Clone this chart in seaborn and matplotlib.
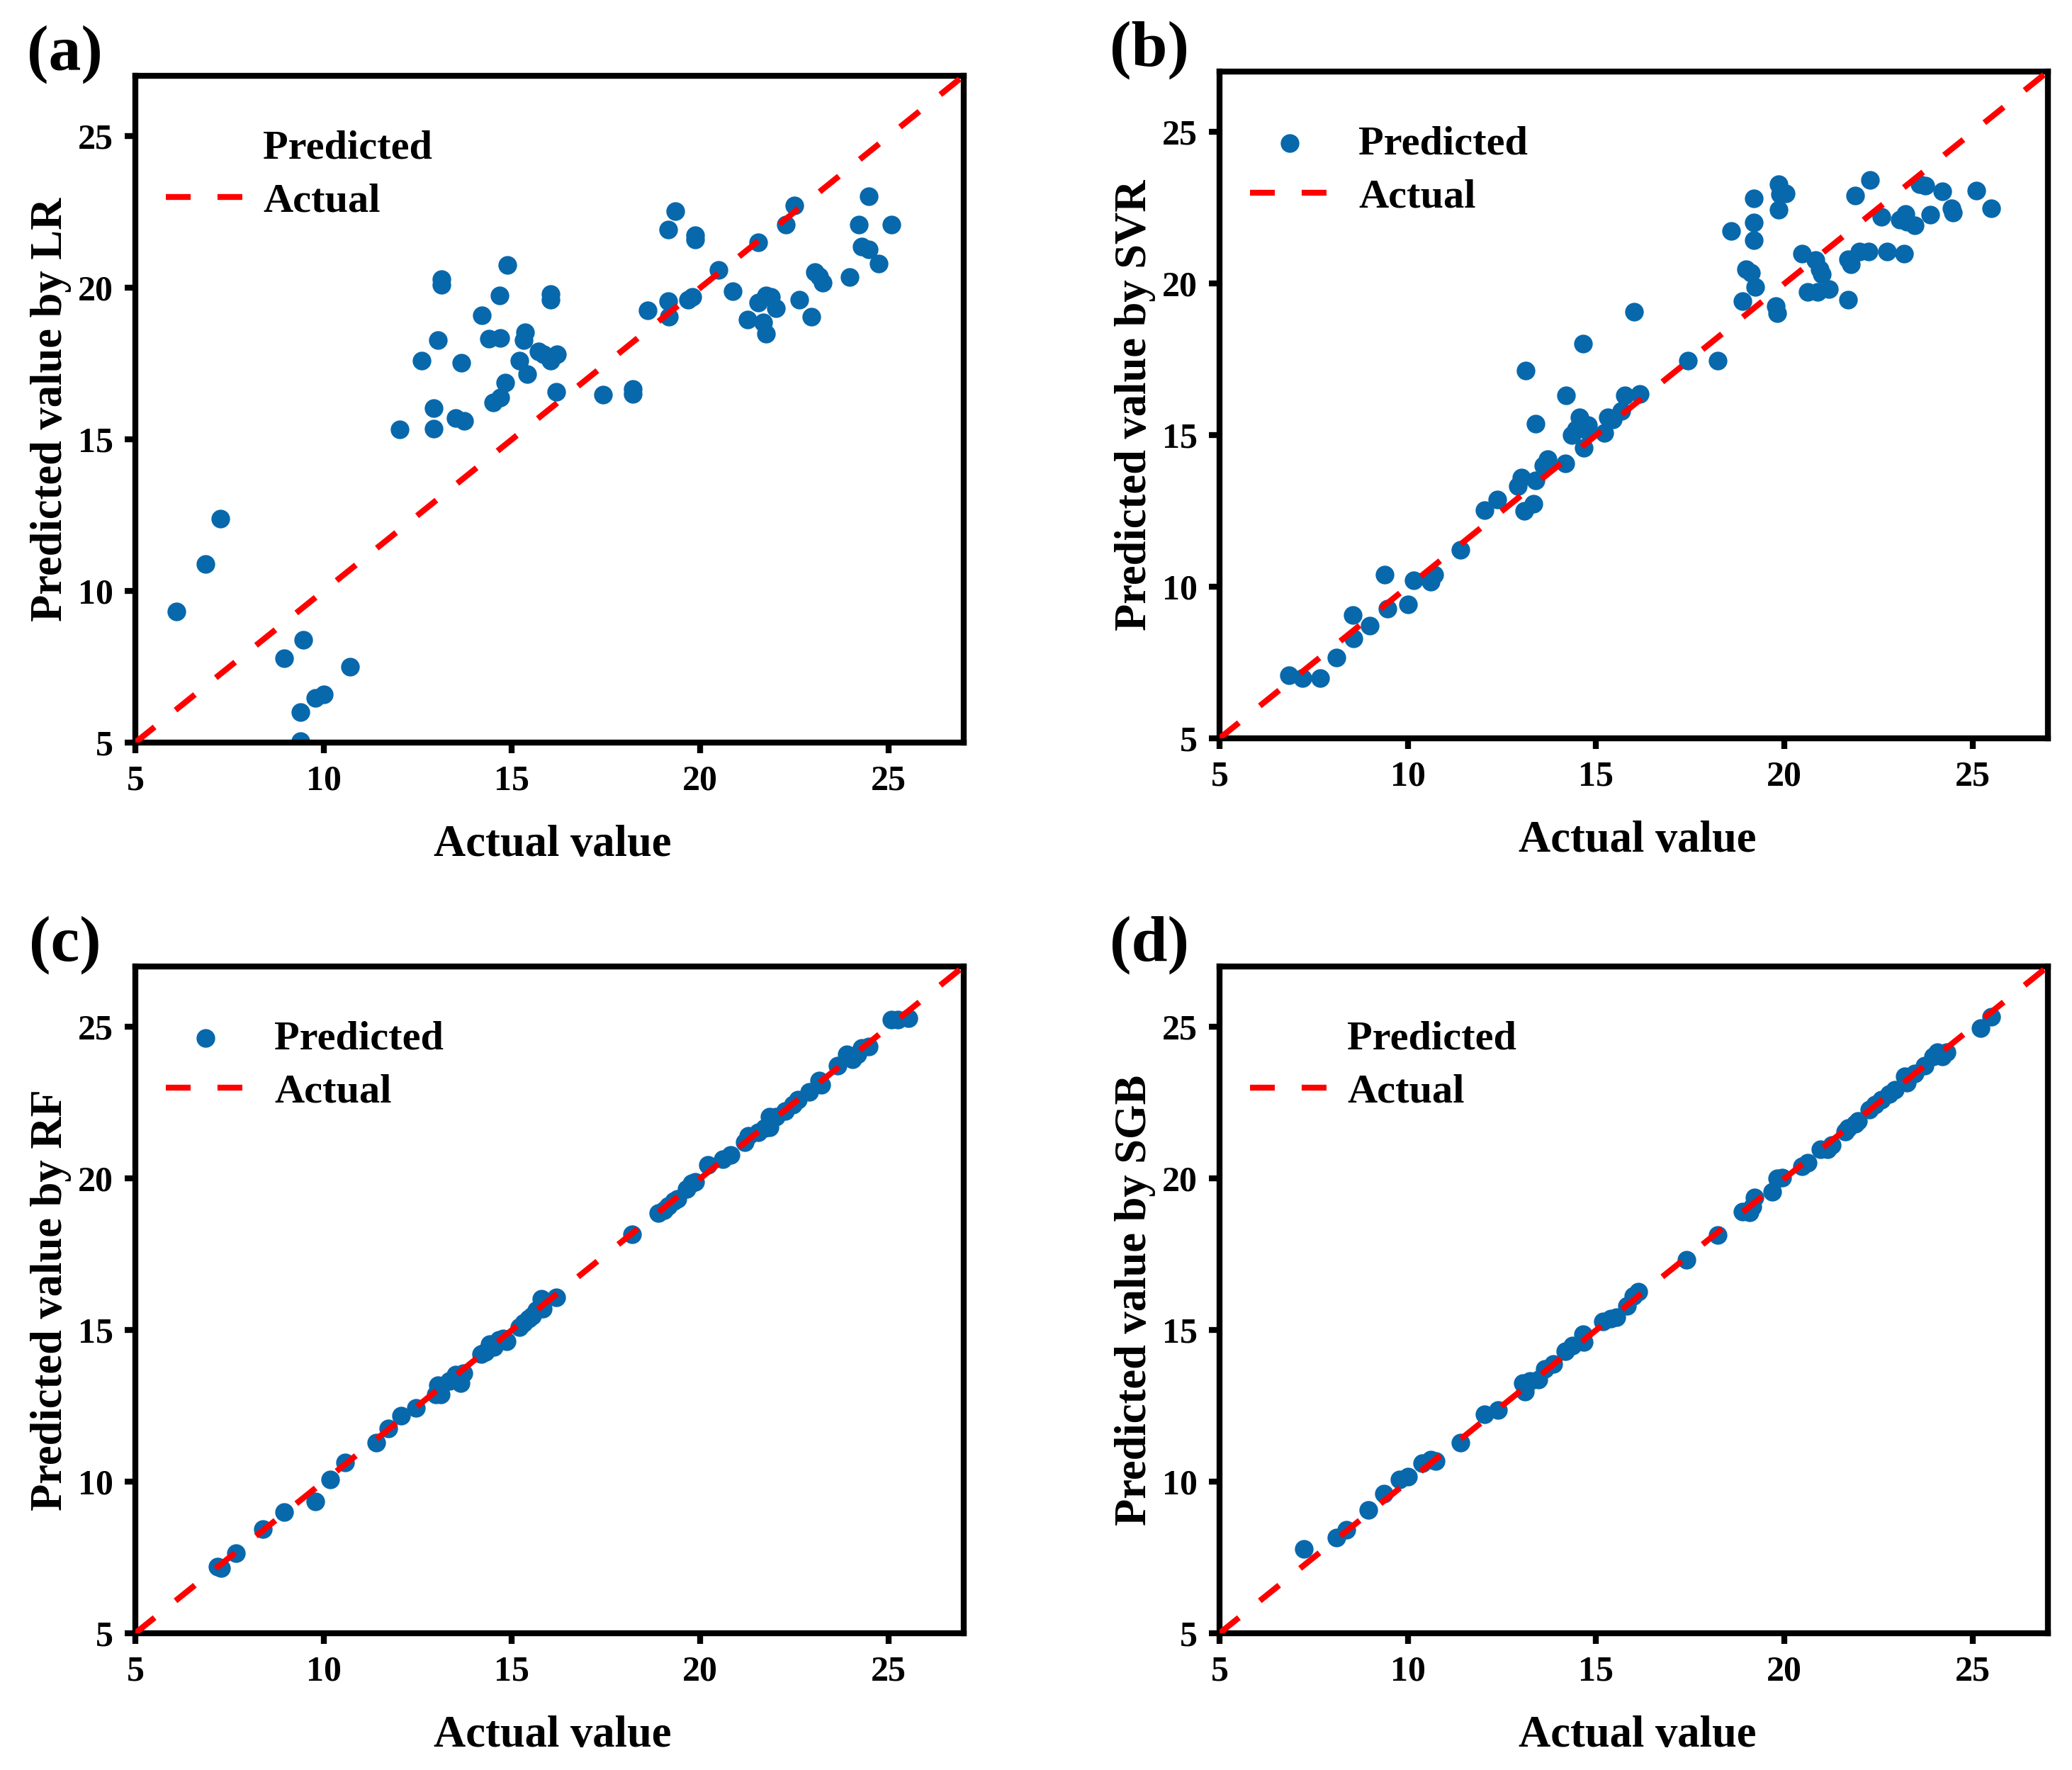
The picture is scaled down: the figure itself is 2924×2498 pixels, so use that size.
import numpy as np
import pandas as pd
import matplotlib
matplotlib.use('Agg')
import matplotlib.pyplot as plt
import seaborn as sb

# ---- data ----
lr_actual = [6.1, 6.86, 7.26, 8.96, 9.46, 9.39, 9.39, 9.79, 10.0, 10.7, 12.02, 12.61, 12.93, 12.93,
             13.04, 13.14, 13.14, 13.5, 13.74, 13.65, 14.21, 14.39, 14.68, 14.7, 14.51, 14.7, 14.82,
             14.88, 15.21, 15.35, 15.32, 15.4, 15.7, 15.84, 16.02, 16.02, 16.02, 16.19, 16.18, 17.42,
             18.21, 18.21, 18.6, 19.16, 19.16, 19.18, 19.35, 19.68, 19.79, 19.86, 19.86, 20.49, 20.86,
             21.26, 21.54, 21.54, 21.67, 21.75, 21.75, 21.89, 22.02, 22.28, 22.51, 22.63, 22.95, 23.05,
             23.16, 23.25, 23.98, 24.21, 24.3, 24.47, 24.47, 24.74, 25.09]
lr_pred = [9.32, 10.9, 12.39, 7.77, 8.39, 6.0, 5.04, 6.47, 6.58, 7.49, 15.33, 17.61, 16.03, 15.36,
           18.27, 20.29, 20.11, 15.7, 15.62, 17.52, 19.1, 18.32, 19.75, 18.34, 16.22, 16.39, 16.87,
           20.76, 17.61, 18.54, 18.28, 17.15, 17.9, 17.8, 19.79, 19.62, 17.61, 17.8, 16.57, 16.48,
           16.67, 16.5, 19.27, 21.93, 19.57, 19.05, 22.54, 19.6, 19.7, 21.74, 21.6, 20.59, 19.88,
           18.95, 21.5, 19.51, 18.86, 18.49, 19.75, 19.7, 19.33, 22.1, 22.73, 19.6, 19.05, 20.53,
           20.39, 20.16, 20.35, 22.1, 21.37, 21.28, 23.03, 20.81, 22.1]

svr_actual = [6.84, 7.21, 7.67, 8.11, 8.53, 8.56, 8.98, 9.39, 9.46, 10.0, 10.16, 10.6, 10.7, 11.4,
              12.04, 12.37, 12.93, 13.02, 13.12, 13.09, 13.33, 13.4, 13.4, 13.6, 13.72, 14.18, 14.21,
              14.35, 14.47, 14.56, 14.65, 14.68, 14.77, 14.79, 15.21, 15.32, 15.44, 15.67, 15.77, 16.0,
              16.16, 17.44, 18.23, 18.58, 18.89, 18.98, 19.12, 19.18, 19.18, 19.18, 19.23, 19.77, 19.81,
              19.84, 19.88, 19.84, 20.04, 20.47, 20.61, 20.82, 20.88, 20.93, 21.0, 21.18, 21.7, 21.7,
              21.77, 21.88, 22.0, 22.23, 22.28, 22.58, 22.72, 23.07, 23.18, 23.21, 23.25, 23.46, 23.6,
              23.74, 23.88, 24.19, 24.44, 24.47, 25.09, 25.49]
svr_pred = [7.08, 6.99, 6.99, 7.66, 9.06, 8.29, 8.72, 10.4, 9.28, 9.41, 10.21, 10.17, 10.4, 11.21,
            12.53, 12.87, 13.33, 13.6, 17.13, 12.5, 12.74, 15.38, 13.5, 14.0, 14.21, 14.08, 16.31,
            15.0, 15.2, 15.6, 18.02, 14.58, 15.14, 15.33, 15.08, 15.6, 15.51, 15.79, 16.31, 19.08,
            16.35, 17.47, 17.47, 21.74, 19.42, 20.48, 20.35, 22.82, 22.02, 21.43, 19.88, 19.27, 19.03,
            23.27, 22.95, 22.45, 22.97, 20.98, 19.73, 20.78, 19.73, 20.48, 20.31, 19.83, 19.46, 20.81,
            20.63, 22.9, 21.06, 21.07, 23.42, 22.21, 21.07, 22.12, 21.0, 22.3, 22.04, 21.93, 23.29,
            23.23, 22.27, 23.05, 22.49, 22.34, 23.08, 22.49]

rf_actual = [7.19, 7.28, 7.68, 8.39, 8.96, 9.79, 10.18, 10.58, 11.4, 11.72, 12.05, 12.46, 12.98, 13.04,
             13.12, 13.33, 13.51, 13.63, 13.72, 14.18, 14.3, 14.42, 14.53, 14.65, 14.77, 14.86, 15.21,
             15.32, 15.44, 15.54, 15.65, 15.79, 15.82, 16.18, 18.19, 18.89, 19.04, 19.16, 19.3, 19.39,
             19.65, 19.77, 19.86, 20.21, 20.61, 20.81, 21.19, 21.28, 21.54, 21.72, 21.84, 21.84, 22.02,
             22.25, 22.46, 22.6, 22.89, 23.16, 23.21, 23.65, 23.89, 24.04, 24.18, 24.3, 24.47, 25.09,
             25.26, 25.53]
rf_pred = [7.2, 7.14, 7.64, 8.44, 9.0, 9.35, 10.08, 10.64, 11.29, 11.75, 12.18, 12.44, 12.87, 13.19,
           12.87, 13.33, 13.52, 13.24, 13.58, 14.21, 14.27, 14.54, 14.45, 14.67, 14.73, 14.64, 15.1,
           15.23, 15.38, 15.47, 15.66, 16.03, 15.71, 16.09, 18.17, 18.86, 18.95, 19.1, 19.25, 19.34,
           19.66, 19.85, 19.9, 20.44, 20.63, 20.78, 21.2, 21.41, 21.52, 21.67, 22.04, 21.7, 22.04,
           22.23, 22.45, 22.6, 22.86, 23.23, 23.1, 23.72, 24.09, 23.94, 24.09, 24.31, 24.35, 25.24,
           25.24, 25.3]

sgb_actual = [7.23, 8.11, 8.37, 8.96, 9.37, 9.77, 10.0, 10.39, 10.61, 10.74, 11.4, 12.04, 12.4, 13.05,
              13.11, 13.25, 13.46, 13.63, 13.86, 14.19, 14.37, 14.65, 14.68, 15.18, 15.39, 15.53, 15.82,
              15.98, 16.12, 17.4, 18.23, 18.89, 19.07, 19.16, 19.21, 19.68, 19.81, 19.95, 20.47, 20.61,
              20.96, 21.14, 21.26, 21.61, 21.7, 21.88, 21.96, 22.26, 22.4, 22.58, 22.79, 22.93, 23.19,
              23.25, 23.46, 23.72, 23.95, 24.07, 24.19, 24.3, 25.21, 25.49]
sgb_pred = [7.79, 8.16, 8.4, 9.06, 9.61, 10.08, 10.17, 10.6, 10.73, 10.69, 11.29, 12.22, 12.37, 13.24,
            12.96, 13.33, 13.37, 13.71, 13.89, 14.3, 14.49, 14.86, 14.6, 15.29, 15.38, 15.42, 15.79,
            16.13, 16.27, 17.33, 18.13, 18.92, 18.88, 19.07, 19.38, 19.57, 20.0, 20.03, 20.4, 20.53,
            20.96, 20.96, 21.11, 21.56, 21.67, 21.8, 21.89, 22.27, 22.45, 22.6, 22.79, 22.92, 23.38,
            23.16, 23.47, 23.72, 24.03, 24.16, 24.03, 24.16, 24.96, 25.33]

diag = [5, 27]
ticks = [5, 10, 15, 20, 25]
panel_labels = ['(a)', '(b)', '(c)', '(d)']
models = ['LR', 'SVR', 'RF', 'SGB']
actuals = [lr_actual, svr_actual, rf_actual, sgb_actual]
preds = [lr_pred, svr_pred, rf_pred, sgb_pred]

sb.set_style('ticks')
plt.rcParams['font.family'] = ['Liberation Serif', 'DejaVu Serif']
plt.rcParams['font.weight'] = 'bold'
plt.rcParams['text.color'] = 'black'
plt.rcParams['axes.labelcolor'] = 'black'
plt.rcParams['axes.edgecolor'] = 'black'
plt.rcParams['xtick.color'] = 'black'
plt.rcParams['ytick.color'] = 'black'

fig = plt.figure(figsize=(2924 / 300, 2498 / 300), dpi=300)
positions = [[0.0653, 0.5805, 0.3998, 0.3767],
             [0.5886, 0.5829, 0.3998, 0.3767],
             [0.0653, 0.0773, 0.3998, 0.3767],
             [0.5886, 0.0773, 0.3998, 0.3767]]

for i in range(4):
    ax = fig.add_axes(positions[i])
    df = pd.DataFrame({'actual': actuals[i], 'pred': preds[i]})
    sb.scatterplot(data=df, x='actual', y='pred', ax=ax, color='#0868ac', s=40,
                   linewidth=0, label='Predicted', zorder=2)
    sb.lineplot(x=diag, y=diag, ax=ax, color='red', linewidth=2,
                linestyle=(0, (4.2, 4.55)), label='Actual', zorder=3)
    ax.set_xlim(5, 27)
    ax.set_ylim(5, 27)
    ax.set_xticks(ticks)
    ax.set_yticks(ticks)
    ax.tick_params(direction='out', length=3.5, width=2, labelsize=12, pad=4,
                   colors='black')
    for lab in ax.get_xticklabels() + ax.get_yticklabels():
        lab.set_fontweight('bold')
    for sp in ax.spines.values():
        sp.set_linewidth(2)
        sp.set_color('black')
        sp.set_visible(True)
    ax.set_xlabel('Actual value', fontsize=15, fontweight='bold', va='center')
    ax.set_ylabel('Predicted value by ' + models[i], fontsize=15, fontweight='bold', va='center')
    ax.xaxis.set_label_coords(0.504, -0.154)
    ax.yaxis.set_label_coords(-0.102, 0.5)
    ax.text(-0.085, 1.032, panel_labels[i], transform=ax.transAxes, fontsize=22,
            fontweight='bold', ha='center', va='center')

    no_marker = i in (0, 3)
    leg = ax.legend(loc='upper left', bbox_to_anchor=(0.037, 0.92), frameon=False,
                    borderpad=0, borderaxespad=0, handlelength=1.9,
                    handletextpad=0.45 if no_marker else 0.72, labelspacing=0.38,
                    prop={'size': 14, 'weight': 'bold'})
    if no_marker:
        leg.legend_handles[0].set_visible(False)

fig.savefig('out.png', dpi=300)
